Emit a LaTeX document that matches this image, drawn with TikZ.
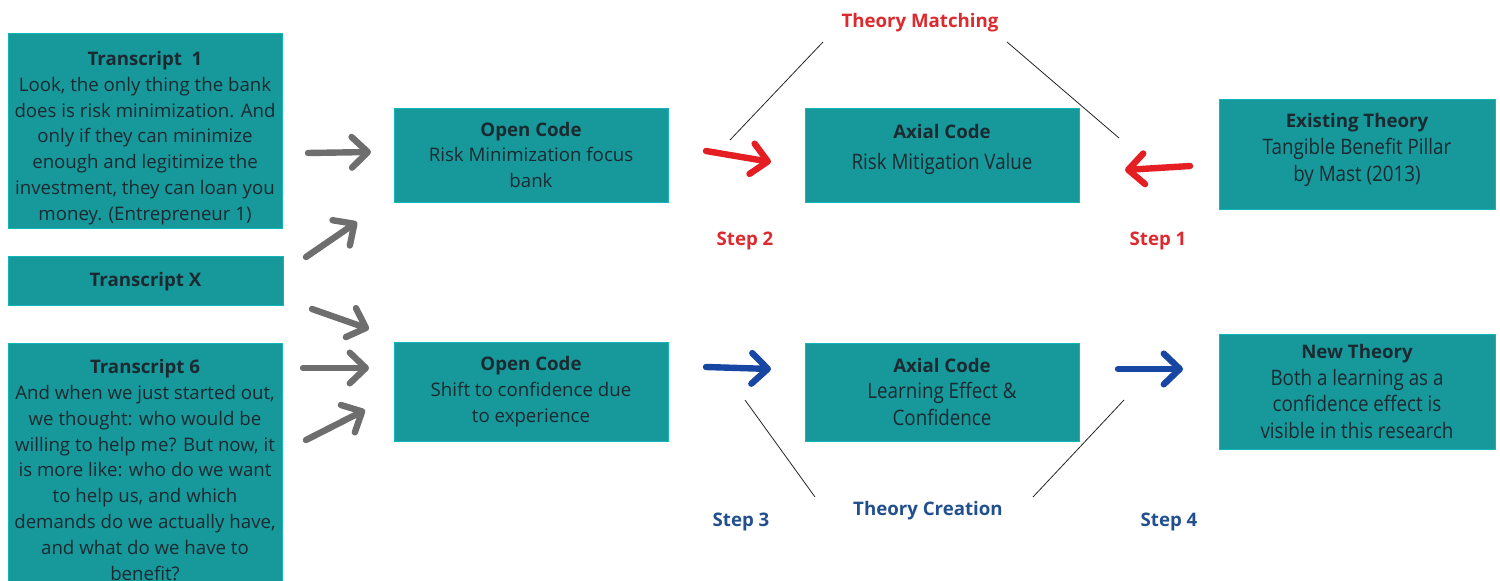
\documentclass[tikz,border=0pt]{standalone}
\usepackage{fontspec}
\setmainfont{Open Sans}
\newfontfamily\narrowfont[FakeStretch=0.88]{Open Sans}
\usetikzlibrary{arrows.meta}
\definecolor{teal}{HTML}{17989B}
\definecolor{ink}{HTML}{1B2A30}
\definecolor{matchred}{HTML}{DD2A2E}
\definecolor{arrowred}{HTML}{E41E22}
\definecolor{createblue}{HTML}{22508E}
\definecolor{arrowblue}{HTML}{1747A3}
\definecolor{arrowgray}{HTML}{6E6E6E}
% extra room above the first line / below the last line of a box
\newcommand{\toproom}[1]{\rule{0pt}{#1}}
\newcommand{\bottomroom}[1]{\rule[-#1]{0pt}{#1}}
\tikzset{
  box/.style={fill=teal, draw=teal!70!cyan, line width=0.5pt, text=ink, align=center,
    font=\fontsize{14}{19.4}\selectfont, inner sep=0pt},
  narrowbox/.style={box, font=\narrowfont\fontsize{16}{20.2}\selectfont},
  steplabel/.style={font=\fontsize{14}{16}\selectfont\bfseries},
  sketcharrow/.style={line width=4.8pt, line cap=round, line join=round,
    -{Straight Barb[length=12pt,width=23pt,line cap=round,line join=round]}},
  grayarrow/.style={sketcharrow, draw=arrowgray},
  redarrow/.style={sketcharrow, draw=arrowred},
  bluearrow/.style={sketcharrow, draw=arrowblue},
  thinline/.style={draw=black!85, line width=0.6pt},
}
\newcommand{\boxtitle}[1]{{\normalfont\fontsize{14}{19.4}\selectfont\bfseries #1}}
\begin{document}
\begin{tikzpicture}[x=0.75pt,y=-0.75pt]
\useasboundingbox[fill=white] (0,0) rectangle (1500,581);
\clip (0,0) rectangle (1500,581);

% transcripts
\node[box, minimum width=205.5pt, minimum height=146.25pt] (t1) at (145,130.5)
  {\toproom{22pt}\textbf{Transcript\ \ 1}\\Look, the only thing the bank\\does is risk minimization. And\\only if they can minimize\\enough and legitimize the\\investment, they can loan you\\money. (Entrepreneur 1)};
\node[box, minimum width=206.25pt, minimum height=36.75pt] (tx) at (145.5,280.5)
  {\toproom{13pt}\textbf{Transcript X}};
\node[box, minimum width=205.5pt, minimum height=190.5pt] (t6) at (145,470)
  {\textbf{Transcript 6}\\And when we just started out,\\we thought: who would be\\willing to help me? But now, it\\is more like: who do we want\\to help us, and which\\demands do we actually have,\\and what do we have to\\benefit?};

% open codes
\node[box, minimum width=205.5pt, minimum height=70.5pt] (oc1) at (531,155)
  {\textbf{Open Code}\\Risk Minimization focus\\bank};
\node[box, minimum width=205.5pt, minimum height=74.25pt] (oc2) at (531,391.5)
  {\textbf{Open Code}\\Shift to confidence due\\to experience};

% axial codes
\node[narrowbox, minimum width=205.5pt, minimum height=70.5pt] (ax1) at (942,155)
  {\boxtitle{Axial Code}\\[3pt]Risk Mitigation Value\bottomroom{12pt}};
\node[narrowbox, minimum width=205.5pt, minimum height=73.5pt] (ax2) at (942,392)
  {\boxtitle{Axial Code}\\Learning Effect \&\\Confidence};

% theories
\node[narrowbox, minimum width=207pt, minimum height=82.5pt] (et) at (1357,154)
  {\boxtitle{Existing Theory}\\Tangible Benefit Pillar\\by Mast (2013)\bottomroom{10pt}};
\node[narrowbox, minimum width=207pt, minimum height=86.25pt] (nt) at (1357,391.5)
  {\boxtitle{New Theory}\\Both a learning as a\\confidence effect is\\visible in this research};

% labels
\node[steplabel, text=matchred] (tm) at (920,23) {Theory Matching};
\node[steplabel, text=matchred] (s2) at (745,241) {Step 2};
\node[steplabel, text=matchred] (s1) at (1158,241) {Step 1};
\node[steplabel, text=createblue] (tc) at (928,511) {Theory Creation};
\node[steplabel, text=createblue] (s3) at (741,522) {Step 3};
\node[steplabel, text=createblue] (s4) at (1169,522) {Step 4};

% guide lines towards the phase labels
\coordinate (tmL) at (730,140);  \coordinate (tmLt) at (823,42);
\coordinate (tmR) at (1119,138); \coordinate (tmRt) at (1007,42);
\coordinate (tcL) at (745,400);  \coordinate (tcLt) at (815,497);
\coordinate (tcR) at (1124,400); \coordinate (tcRt) at (1033,497);
\draw[thinline] (tmL) -- (tmLt);
\draw[thinline] (tmRt) -- (tmR);
\draw[thinline] (tcL) -- (tcLt);
\draw[thinline] (tcRt) -- (tcR);

% transcripts into open codes
\coordinate (g1s) at (308,153); \coordinate (g1e) at (371,152);
\coordinate (g2s) at (306,257); \coordinate (g2e) at (357,222);
\coordinate (g3s) at (312,309); \coordinate (g3e) at (369,329);
\coordinate (g4s) at (303,368); \coordinate (g4e) at (369,368);
\coordinate (g5s) at (306,440); \coordinate (g5e) at (365,410);
\draw[grayarrow] (g1s) -- (g1e);
\draw[grayarrow] (g2s) -- (g2e);
\draw[grayarrow] (g3s) -- (g3e);
\draw[grayarrow] (g4s) -- (g4e);
\draw[grayarrow] (g5s) -- (g5e);

% theory matching arrows
\coordinate (r1s) at (706,151); \coordinate (r1e) at (771,162);
\coordinate (r2s) at (1190,166); \coordinate (r2e) at (1125,170);
\draw[redarrow] (r1s) -- (r1e);
\draw[redarrow] (r2s) -- (r2e);

% theory creation arrows
\coordinate (b1s) at (706,367); \coordinate (b1e) at (771,369);
\coordinate (b2s) at (1118,369); \coordinate (b2e) at (1183,369);
\draw[bluearrow] (b1s) -- (b1e);
\draw[bluearrow] (b2s) -- (b2e);
\end{tikzpicture}
\end{document}
